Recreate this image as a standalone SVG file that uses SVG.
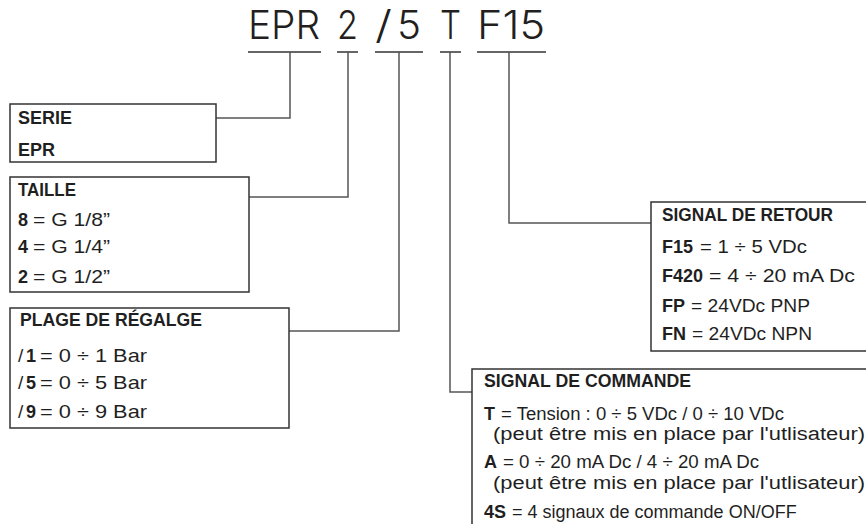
<svg xmlns="http://www.w3.org/2000/svg" width="866" height="524" viewBox="0 0 866 524">
<style>
text{font-family:"Liberation Sans",Arial,sans-serif;fill:#1f1f1f}
.t{font-family:Inter,"Liberation Sans",Arial,sans-serif;font-size:39px;font-weight:300;fill:#231f20}
.b{font-size:18px;font-weight:bold}
.r{font-size:19px}
.s{font-size:18px}
.box{fill:#fff;stroke:#333;stroke-width:1.5}
.ul{stroke:#666;stroke-width:2;fill:none}
.cn{stroke:#555;stroke-width:1.5;fill:none}
</style>
<rect width="866" height="524" fill="#fff"/>
<g id="code">
<text class="t" x="248" y="39" textLength="72" lengthAdjust="spacingAndGlyphs">EPR</text>
<text class="t" x="337" y="39" textLength="21" lengthAdjust="spacingAndGlyphs">2</text>
<text class="t" x="375" y="39" textLength="17" lengthAdjust="spacingAndGlyphs">/</text>
<text class="t" x="397" y="39" textLength="24" lengthAdjust="spacingAndGlyphs">5</text>
<text class="t" x="440" y="39" textLength="21" lengthAdjust="spacingAndGlyphs">T</text>
<text class="t" x="477" y="39" textLength="68" lengthAdjust="spacingAndGlyphs">F15</text>
</g>
<g id="connectors">
<path class="ul" d="M248 52H321M337 52H358M375 52H423M440 52H461M477 52H546"/>
<path class="cn" d="M290 52V118H216"/>
<path class="cn" d="M348 52V197H249"/>
<path class="cn" d="M399 52V331H289"/>
<path class="cn" d="M450 52V392H472"/>
<path class="cn" d="M509 52V223H651"/>
</g>
<g id="serie">
<rect class="box" x="10" y="104" width="206" height="58"/>
<text class="b" x="18" y="124">SERIE</text>
<text class="b" x="18" y="156">EPR</text>
</g>
<g id="taille">
<rect class="box" x="10" y="177" width="239" height="115"/>
<text class="b" x="18" y="196" textLength="58" lengthAdjust="spacingAndGlyphs">TAILLE</text>
<text class="b" x="18" y="226">8</text>
<text class="r" x="33" y="226" textLength="77" lengthAdjust="spacingAndGlyphs">= G 1/8”</text>
<text class="b" x="18" y="253">4</text>
<text class="r" x="33" y="253" textLength="77" lengthAdjust="spacingAndGlyphs">= G 1/4”</text>
<text class="b" x="18" y="283">2</text>
<text class="r" x="33" y="283" textLength="77" lengthAdjust="spacingAndGlyphs">= G 1/2”</text>
</g>
<g id="plage">
<rect class="box" x="10" y="308" width="279" height="120"/>
<text class="b" x="20" y="326" textLength="182" lengthAdjust="spacingAndGlyphs">PLAGE DE RÉGALGE</text>
<text class="r" x="18" y="362">/</text>
<text class="b" x="26" y="362">1</text>
<text class="r" x="40" y="362" textLength="107" lengthAdjust="spacingAndGlyphs">= 0 ÷ 1 Bar</text>
<text class="r" x="18" y="389">/</text>
<text class="b" x="26" y="389">5</text>
<text class="r" x="40" y="389" textLength="107" lengthAdjust="spacingAndGlyphs">= 0 ÷ 5 Bar</text>
<text class="r" x="18" y="418">/</text>
<text class="b" x="26" y="418">9</text>
<text class="r" x="40" y="418" textLength="107" lengthAdjust="spacingAndGlyphs">= 0 ÷ 9 Bar</text>
</g>
<g id="retour">
<rect class="box" x="651" y="202" width="240" height="149"/>
<text class="b" x="662" y="221" textLength="171" lengthAdjust="spacingAndGlyphs">SIGNAL DE RETOUR</text>
<text class="b" x="662" y="253">F15</text>
<text class="r" x="700" y="253" textLength="107" lengthAdjust="spacingAndGlyphs">= 1 ÷ 5 VDc</text>
<text class="b" x="662" y="282">F420</text>
<text class="r" x="709" y="282" textLength="146" lengthAdjust="spacingAndGlyphs">= 4 ÷ 20 mA Dc</text>
<text class="b" x="662" y="312">FP</text>
<text class="r" x="691" y="312" textLength="119" lengthAdjust="spacingAndGlyphs">= 24VDc PNP</text>
<text class="b" x="662" y="340">FN</text>
<text class="r" x="692" y="340" textLength="120" lengthAdjust="spacingAndGlyphs">= 24VDc NPN</text>
</g>
<g id="commande">
<rect class="box" x="472" y="369" width="420" height="180"/>
<text class="b" x="484" y="387" textLength="207" lengthAdjust="spacingAndGlyphs">SIGNAL DE COMMANDE</text>
<text class="b" x="484" y="420">T</text>
<text class="s" x="501" y="420" textLength="283" lengthAdjust="spacingAndGlyphs">= Tension : 0 ÷ 5 VDc / 0 ÷ 10 VDc</text>
<text class="s" x="493" y="440" textLength="372" lengthAdjust="spacingAndGlyphs">(peut être mis en place par l'utlisateur)</text>
<text class="b" x="484" y="468">A</text>
<text class="s" x="503" y="468" textLength="256" lengthAdjust="spacingAndGlyphs">= 0 ÷ 20 mA Dc / 4 ÷ 20 mA Dc</text>
<text class="s" x="493" y="489" textLength="372" lengthAdjust="spacingAndGlyphs">(peut être mis en place par l'utlisateur)</text>
<text class="b" x="484" y="518">4S</text>
<text class="s" x="512" y="518">= 4 signaux de commande ON/OFF</text>
</g>
</svg>
